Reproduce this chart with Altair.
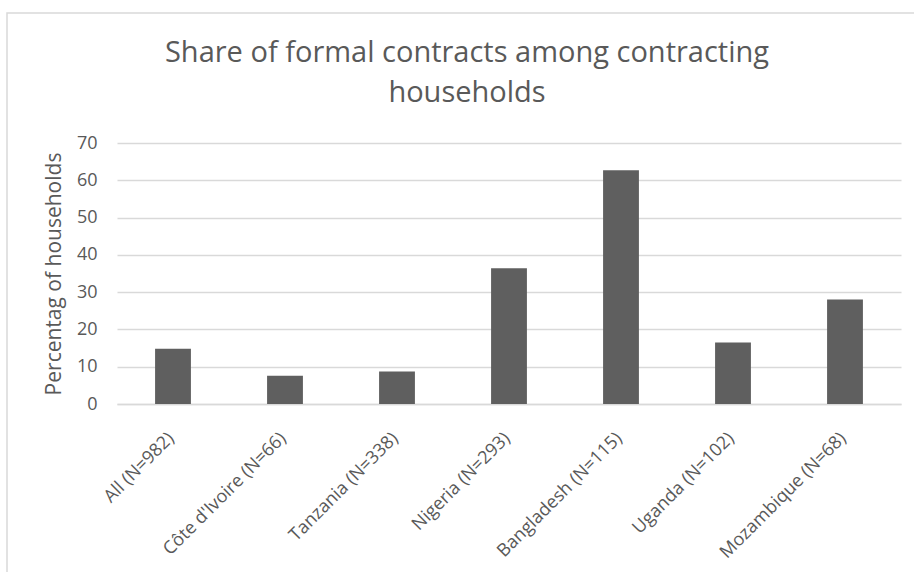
import altair as alt
import pandas as pd

categories = ["All (N=982)", "Côte d'Ivoire (N=66)", "Tanzania (N=338)", "Nigeria (N=293)",
              "Bangladesh (N=115)", "Uganda (N=102)", "Mozambique (N=68)"]
values = [14.8, 7.6, 8.7, 36.4, 62.7, 16.5, 28.0]
y_ticks = [0, 10, 20, 30, 40, 50, 60, 70]

df = pd.DataFrame({"category": categories, "value": values})

FONT = "Open Sans"
TEXT = "#595959"
GRID = "#d9d9d9"

frame = alt.Chart(pd.DataFrame({"a": [0]})).mark_rect(
    filled=False, stroke=GRID, strokeWidth=1.5
).encode(
    x=alt.value(-110), x2=alt.value(840), y=alt.value(-130), y2=alt.value(470)
)

bars = alt.Chart(df).mark_bar(color="#5f5f5f").encode(
    x=alt.X("category:N", sort=categories, title=None,
            scale=alt.Scale(paddingInner=0.68, paddingOuter=0.34),
            axis=alt.Axis(labelAngle=-45, labelFontSize=18, labelColor=TEXT, labelFont=FONT,
                          ticks=False, domainColor=GRID, domainWidth=1.5, labelPadding=25,
                          labelOffset=-8, grid=False)),
    y=alt.Y("value:Q", scale=alt.Scale(domain=[0, 70]), title="Percentag of households",
            axis=alt.Axis(values=y_ticks, domain=False, ticks=False, labelPadding=20,
                          labelFontSize=18, labelColor=TEXT, labelFont=FONT,
                          gridColor=GRID, gridWidth=1.5,
                          titleFontSize=21, titleFont=FONT, titleColor=TEXT,
                          titleFontWeight="normal", titlePadding=12)),
)

chart = alt.layer(frame, bars).properties(
    width=784,
    height=261,
    autosize="none",
    padding={"left": 117, "top": 143, "right": 13, "bottom": 168},
    title=alt.TitleParams(
        ["Share of formal contracts among contracting", "households"],
        fontSize=29, font=FONT, color=TEXT, fontWeight="normal",
        anchor="middle", dx=-42, dy=100, lineHeight=40,
    ),
).configure_view(stroke=None)

chart.save("out.html", embed_options={"renderer": "svg", "actions": False})
